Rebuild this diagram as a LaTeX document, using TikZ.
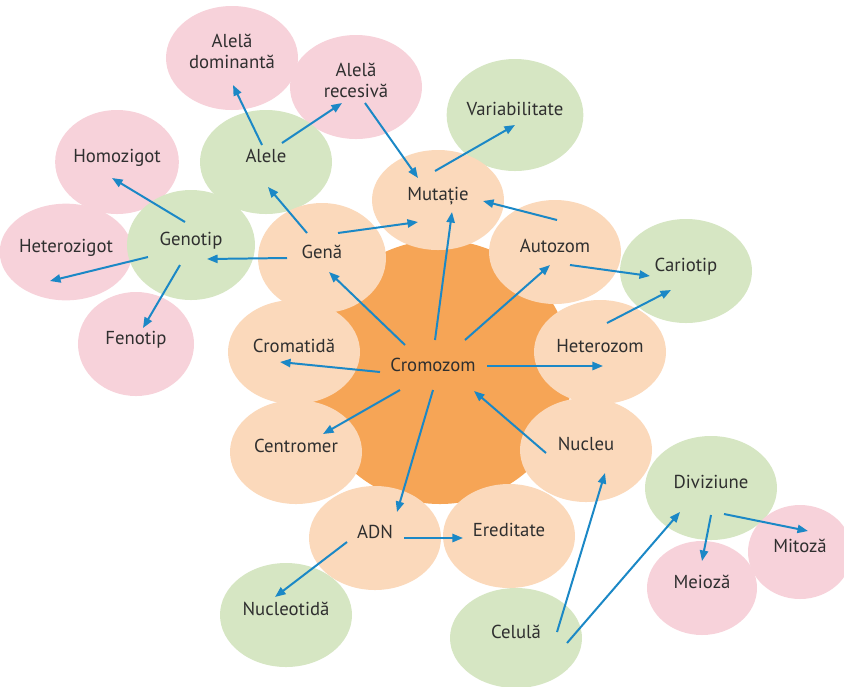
\documentclass[tikz,border=0pt]{standalone}
\usepackage{fontspec}
\setmainfont{PT Sans}
\usetikzlibrary{arrows.meta,shapes.geometric}
\definecolor{peach}{HTML}{FBD9BB}
\definecolor{leaf}{HTML}{D6E6C3}
\definecolor{rose}{HTML}{F7D2DA}
\definecolor{core}{HTML}{F6A556}
\definecolor{arrowblue}{HTML}{1B88C6}
\definecolor{ink}{HTML}{2F2F2F}
\tikzset{
 bubble/.style={ellipse,minimum width=3.96cm,minimum height=3.12cm,inner sep=0pt,align=center,text=ink,text depth=11pt,font=\fontsize{16}{18}\selectfont},
 ringnode/.style={bubble,fill=peach},
 greennode/.style={bubble,fill=leaf},
 pinknode/.style={bubble,fill=rose},
 small/.style={minimum width=3.3cm,minimum height=2.82cm},
 link/.style={-{Triangle[length=9pt,width=7pt]},line width=1.7pt,draw=arrowblue}
}

\begin{document}
\begin{tikzpicture}[x=0.03cm,y=-0.03cm]
\useasboundingbox (0,0) rectangle (844,686);
\fill[core] (440,372) circle (132);
% outer pink ones
\node[pinknode] (dom) at (232,58) {Alelă\\dominantă};
\node[pinknode] (rec) at (356,87) {Alelă\\recesivă};
\node[pinknode,minimum width=3.54cm] (homo) at (117,162) {Homozigot};
\node[pinknode,minimum width=3.48cm,minimum height=2.9cm] (hetz) at (66,252) {Heterozigot};
\node[pinknode,minimum width=3.48cm] (feno) at (136,344) {Fenotip};
% green ones
\node[greennode] (alele) at (266,162) {Alele};
\node[greennode,minimum height=3.36cm] (var) at (515,115) {Variabilitate};
\node[greennode,minimum width=3.84cm,minimum height=3.3cm] (genotip) at (191,245) {Genotip};
\node[greennode] (cario) at (686,271) {Cariotip};
\node[greennode] (nucleot) at (286,615) {Nucleotidă};
\node[greennode,minimum height=3cm] (celula) at (516,638) {Celulă};
\node[greennode] (diviz) at (711,488) {Diviziune};
% ring round the chromosome
\node[ringnode,minimum height=3cm] (mut) at (438,200) {Mutație};
\node[ringnode,minimum width=3.84cm,minimum height=3.3cm] (gena) at (322,258) {Genă};
\node[ringnode] (auto) at (555,252) {Autozom};
\node[ringnode] (cromatida) at (294,352) {Cromatidă};
\node[ringnode] (heterozom) at (600,352) {Heterozom};
\node[ringnode] (centromer) at (296,452) {Centromer};
\node[ringnode] (nucleu) at (586,450) {Nucleu};
\node[ringnode] (adn) at (375,538) {ADN};
\node[ringnode] (ered) at (509,536) {Ereditate};
\node[pinknode,small] (meioza) at (702,588) {Meioză};
\node[pinknode,small,minimum width=3.12cm] (mitoza) at (800,552) {Mitoză};
\node[text=ink,font=\fontsize{16}{18}\selectfont] (cromozom) at (433,365) {Cromozom};
% arrows
\draw[link] ([shift={(-4,-17)}]alele.center) -- ([shift={(1,27)}]dom.center);
\draw[link] ([shift={(16,-19)}]alele.center) -- ([shift={(-14,16)}]rec.center);
\draw[link] ([shift={(9,16)}]rec.center) -- ([shift={(-20,-22)}]mut.center);
\draw[link] ([shift={(-15,-25)}]gena.center) -- ([shift={(2,25)}]alele.center);
\draw[link] ([shift={(-35,0)}]gena.center) -- ([shift={(16,14)}]genotip.center);
\draw[link] ([shift={(16,-25)}]gena.center) -- ([shift={(-20,22)}]mut.center);
\draw[link] ([shift={(-6,-23)}]genotip.center) -- ([shift={(-5,16)}]homo.center);
\draw[link] ([shift={(-43,12)}]genotip.center) -- ([shift={(-16,29)}]hetz.center);
\draw[link] ([shift={(-11,20)}]genotip.center) -- ([shift={(7,-16)}]feno.center);
\draw[link] ([shift={(-3,-29)}]mut.center) -- ([shift={(0,10)}]var.center);
\draw[link] ([shift={(2,-32)}]auto.center) -- ([shift={(45,1)}]mut.center);
\draw[link] ([shift={(15,13)}]auto.center) -- ([shift={(-36,5)}]cario.center);
\draw[link] ([shift={(7,-29)}]heterozom.center) -- ([shift={(-15,19)}]cario.center);
\draw[link] ([shift={(-28,-20)}]cromozom.center) -- ([shift={(7,14)}]gena.center);
\draw[link] ([shift={(2,-25)}]cromozom.center) -- ([shift={(14,12)}]mut.center);
\draw[link] ([shift={(32,-25)}]cromozom.center) -- ([shift={(-5,13)}]auto.center);
\draw[link] ([shift={(54,1)}]cromozom.center) -- ([shift={(3,14)}]heterozom.center);
\draw[link] ([shift={(-53,7)}]cromozom.center) -- ([shift={(-14,10)}]cromatida.center);
\draw[link] ([shift={(-33,25)}]cromozom.center) -- ([shift={(27,-18)}]centromer.center);
\draw[link] ([shift={(0,25)}]cromozom.center) -- ([shift={(22,-26)}]adn.center);
\draw[link] ([shift={(-40,3)}]nucleu.center) -- ([shift={(41,26)}]cromozom.center);
\draw[link] ([shift={(29,0)}]adn.center) -- ([shift={(-46,2)}]ered.center);
\draw[link] ([shift={(-28,4)}]adn.center) -- ([shift={(-11,-18)}]nucleot.center);
\draw[link] ([shift={(41,-6)}]celula.center) -- ([shift={(19,23)}]nucleu.center);
\draw[link] ([shift={(51,5)}]celula.center) -- ([shift={(-31,24)}]diviz.center);
\draw[link] ([shift={(0,27)}]diviz.center) -- ([shift={(0,-27)}]meioza.center);
\draw[link] ([shift={(13,26)}]diviz.center) -- ([shift={(8,-21)}]mitoza.center);
\end{tikzpicture}
\end{document}
